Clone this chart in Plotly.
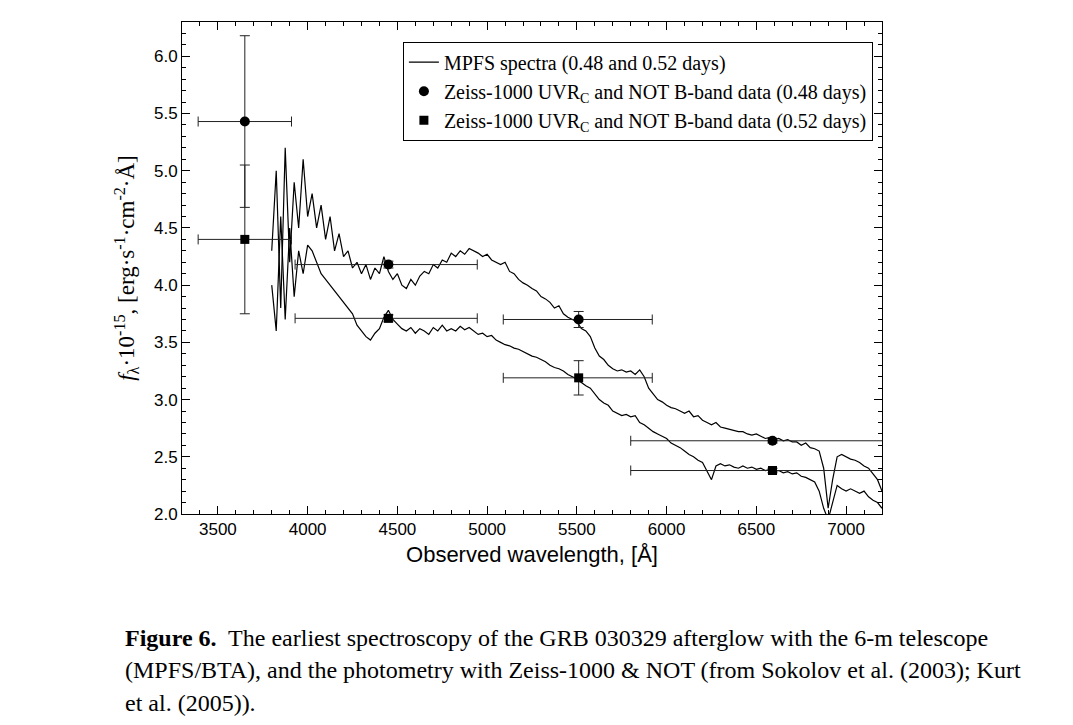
import plotly.graph_objects as go

# ------------------------------------------------------------
# DATA
# ------------------------------------------------------------
wl_start, wl_step = 3800, 25
flux_048 = [4.3, 5.0, 3.8, 5.2, 4.2, 4.9, 4.5, 5.1, 4.6,
            4.8, 4.5, 4.7, 4.4, 4.6, 4.3, 4.45, 4.25, 4.3, 4.15, 4.2, 4.1,
            4.18, 4.05, 4.15, 4.1, 4.25, 4.12, 4.05, 4.1, 4.0, 3.97, 4.05, 4.0,
            4.08, 4.12, 4.1, 4.18, 4.15, 4.22, 4.2, 4.28, 4.25, 4.3, 4.27, 4.32,
            4.3, 4.28, 4.25, 4.27, 4.22, 4.2, 4.18, 4.2, 4.12, 4.1, 4.05, 4.02,
            4.0, 3.97, 3.95, 3.9, 3.88, 3.85, 3.8, 3.82, 3.75, 3.72, 3.7, 3.68,
            3.62, 3.6, 3.55, 3.45, 3.38, 3.35, 3.3, 3.27, 3.25, 3.26, 3.24, 3.25,
            3.22, 3.26, 3.2, 3.1, 3.05, 3.0, 2.98, 2.95, 2.93, 2.92, 2.9, 2.88,
            2.9, 2.85, 2.86, 2.82, 2.8, 2.78, 2.8, 2.76, 2.75, 2.74, 2.73, 2.72,
            2.72, 2.7, 2.69, 2.7, 2.68, 2.66, 2.67, 2.65, 2.66, 2.64, 2.65, 2.63,
            2.63, 2.6, 2.62, 2.58, 2.57, 2.55, 2.4, 2.05, 2.3, 2.5, 2.52, 2.5,
            2.48, 2.47, 2.45, 2.42, 2.4, 2.35, 2.3, 2.2]
flux_052 = [4.0, 3.6, 4.6, 3.7, 4.5, 3.9, 4.3, 4.1, 4.35,
            4.3, 4.2, 4.1, 4.05, 4.0, 3.95, 3.9, 3.85, 3.8, 3.75, 3.65, 3.6,
            3.55, 3.52, 3.58, 3.62, 3.72, 3.78, 3.7, 3.66, 3.62, 3.6, 3.63, 3.58,
            3.62, 3.6, 3.57, 3.63, 3.6, 3.65, 3.6, 3.62, 3.6, 3.64, 3.61, 3.63,
            3.6, 3.57, 3.58, 3.55, 3.56, 3.52, 3.5, 3.48, 3.47, 3.45, 3.44, 3.42,
            3.4, 3.38, 3.37, 3.35, 3.33, 3.3, 3.28, 3.27, 3.25, 3.22, 3.2, 3.18,
            3.15, 3.12, 3.1, 3.05, 3.0, 2.97, 2.95, 2.9, 2.88, 2.86, 2.87, 2.85,
            2.86, 2.8, 2.78, 2.75, 2.72, 2.7, 2.68, 2.66, 2.62, 2.6, 2.58, 2.55,
            2.52, 2.5, 2.47, 2.45, 2.38, 2.3, 2.42, 2.44, 2.42, 2.43, 2.41, 2.4,
            2.42, 2.4, 2.41, 2.39, 2.4, 2.38, 2.39, 2.37, 2.38, 2.36, 2.37, 2.35,
            2.36, 2.33, 2.32, 2.3, 2.28, 2.2, 2.05, 1.95, 2.1, 2.25, 2.22, 2.2,
            2.22, 2.2, 2.18, 2.2, 2.15, 2.12, 2.1, 2.05]
wavelength = [wl_start + i * wl_step for i in range(len(flux_048))]

# photometry
phot_wl      = [3650, 4450, 5510, 6590]
phot_lo      = [3390, 3930, 5090, 5800]   # left end of band bar
phot_hi      = [3910, 4945, 5920, 7400]   # right end of band bar
phot_048     = [5.43, 4.18, 3.70, 2.64]
phot_048_err = [0.75, 0.03, 0.07, 0.02]
phot_052     = [4.40, 3.71, 3.19, 2.38]
phot_052_err = [0.65, 0.03, 0.15, 0.02]

SERIF = "Liberation Serif"
SANS = "Liberation Sans"

fig = go.Figure()

fig.add_trace(go.Scatter(x=wavelength, y=flux_048, mode="lines",
                         line=dict(color="black", width=1.2),
                         name="MPFS spectra (0.48 and 0.52 days)"))
fig.add_trace(go.Scatter(x=wavelength, y=flux_052, mode="lines",
                         line=dict(color="black", width=1.2), showlegend=False))

xm = [w - lo for w, lo in zip(phot_wl, phot_lo)]
xp = [hi - w for w, hi in zip(phot_wl, phot_hi)]
err_style = dict(color="#222222", thickness=1, width=5)

fig.add_trace(go.Scatter(
    x=phot_wl, y=phot_048, mode="markers",
    marker=dict(symbol="circle", size=10, color="black"),
    error_x=dict(type="data", symmetric=False, array=xp, arrayminus=xm, **err_style),
    error_y=dict(type="data", array=phot_048_err, **err_style),
    name="Zeiss-1000 UVR<sub>C</sub> and NOT B-band data (0.48 days)"))
fig.add_trace(go.Scatter(
    x=phot_wl, y=phot_052, mode="markers",
    marker=dict(symbol="square", size=9, color="black"),
    error_x=dict(type="data", symmetric=False, array=xp, arrayminus=xm, **err_style),
    error_y=dict(type="data", array=phot_052_err, **err_style),
    name="Zeiss-1000 UVR<sub>C</sub> and NOT B-band data (0.52 days)"))

axis_common = dict(showline=True, linecolor="black", linewidth=1, mirror="ticks",
                   ticks="inside", ticklen=8, tickcolor="black", showgrid=False,
                   zeroline=False, automargin=False,
                   tickfont=dict(family=SANS, size=17, color="black"),
                   minor=dict(ticks="inside", ticklen=4, tickcolor="black"))

fig.update_xaxes(range=[3300, 7200], tickvals=[3500, 4000, 4500, 5000, 5500, 6000, 6500, 7000],
                 minor_dtick=100,
                 title=dict(text="Observed wavelength, [Å]", font=dict(family=SANS, size=22, color="black"),
                            standoff=8),
                 **axis_common)
fig.update_yaxes(range=[2.0, 6.3], dtick=0.5, tickformat=".1f", minor_dtick=0.1,
                 title=dict(text="<i>f</i><sub>λ</sub>·10<sup>-15</sup>, [erg·s<sup>-1</sup>·cm<sup>-2</sup>·Å]",
                            font=dict(family=SERIF, size=23, color="black"), standoff=12),
                 **axis_common)

caption = [
    "<b>Figure 6.</b>  The earliest spectroscopy of the GRB 030329 afterglow with the 6-m telescope",
    "(MPFS/BTA), and the photometry with Zeiss-1000 & NOT (from Sokolov et al. (2003); Kurt",
    "et al. (2005)).",
]
for i, line in enumerate(caption):
    fig.add_annotation(text=line, xref="paper", yref="paper", x=-0.085, y=-0.252 - i * 0.066,
                       xanchor="left", yanchor="middle", showarrow=False,
                       font=dict(family=SERIF, size=24, color="black"))

fig.update_layout(
    width=1073, height=725,
    margin=dict(l=174, r=199, t=14, b=219),
    plot_bgcolor="white", paper_bgcolor="white",
    legend=dict(x=0.987, y=0.96, xanchor="right", yanchor="top",
                bordercolor="black", borderwidth=1, bgcolor="white",
                font=dict(family=SERIF, size=20, color="black"),
                tracegroupgap=0, itemwidth=30),
)

fig.write_html("out.html")
